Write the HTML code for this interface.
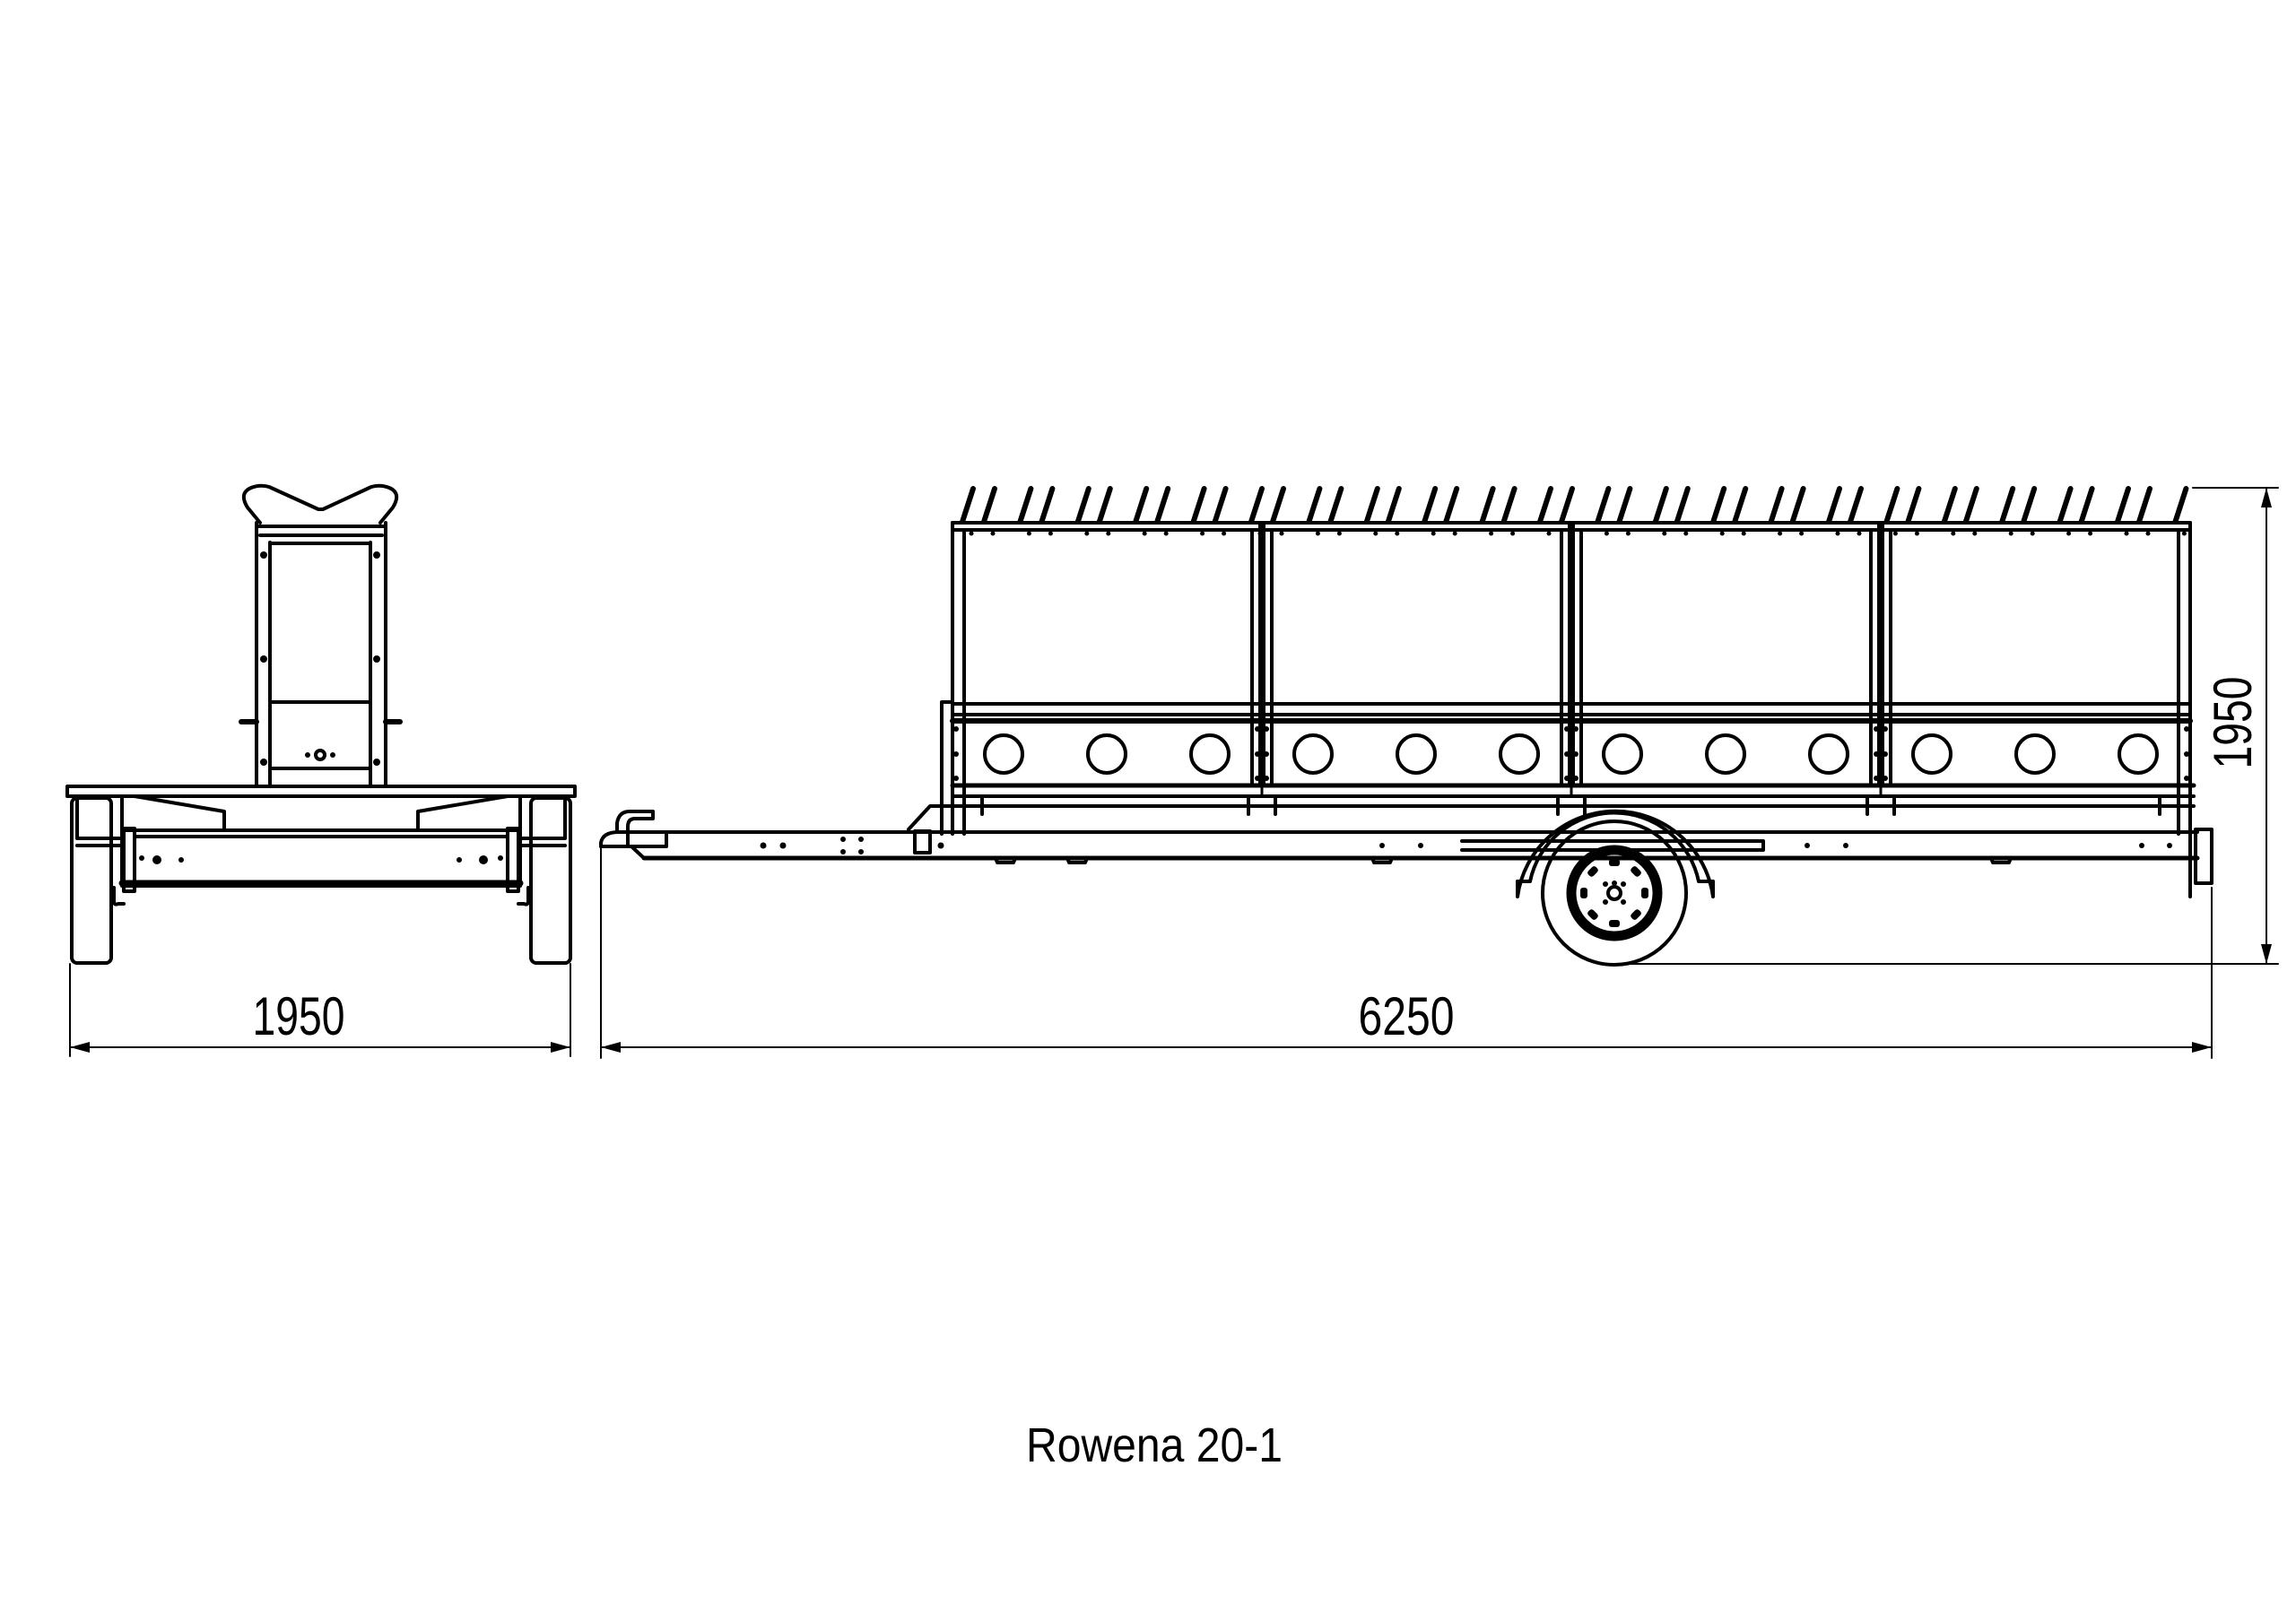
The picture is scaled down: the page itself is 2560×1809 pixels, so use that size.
<!DOCTYPE html>
<html><head><meta charset="utf-8">
<style>
html,body{margin:0;padding:0;background:#fff;}
svg{display:block;}
text{font-family:"Liberation Sans",Arial,sans-serif;fill:#000;}
</style></head>
<body>
<svg id="s" width="2560" height="1809" viewBox="0 0 2560 1809" xmlns="http://www.w3.org/2000/svg">
<rect width="2560" height="1809" fill="#fff"/>
<g fill="none" stroke="#000" stroke-width="4" stroke-linejoin="round" stroke-linecap="round">
<!-- ===== FRONT VIEW ===== -->
<path d="M290,583 L276,566 Q266,550 280,544 Q290,540 300,543 L355,568 L360,568 L414,543 Q424,540 434,544 Q448,550 438,566 L424,583"/>
<line x1="286" y1="583" x2="286" y2="877"/>
<line x1="430" y1="583" x2="430" y2="877"/>
<line x1="301" y1="605" x2="301" y2="877"/>
<line x1="413" y1="605" x2="413" y2="877"/>
<line x1="286" y1="587" x2="430" y2="587"/>
<line x1="290" y1="597" x2="426" y2="597"/>
<line x1="301" y1="606" x2="413" y2="606"/>
<line x1="301" y1="783" x2="413" y2="783"/>
<line x1="301" y1="857" x2="413" y2="857"/>
<line x1="269" y1="805" x2="286" y2="805" stroke-width="6"/>
<line x1="430" y1="805" x2="446" y2="805" stroke-width="6"/>
<circle cx="357" cy="842" r="5"/>
<rect x="75" y="877" width="566" height="11"/>
<!-- wheels -->
<rect x="80" y="890" width="44" height="184" rx="6"/>
<rect x="592" y="890" width="44" height="184" rx="6"/>
<path d="M86,890 L86,935 L136,935 M136,890 L136,926 M86,943 L136,943"/>
<path d="M630,890 L630,935 L580,935 M580,890 L580,926 M630,943 L580,943"/>
<path d="M150,888 L250,905 L250,926"/>
<path d="M566,888 L466,905 L466,926"/>
<rect x="136" y="926" width="444" height="62"/>
<line x1="150" y1="933" x2="566" y2="933"/>
<line x1="136" y1="985" x2="580" y2="985" stroke-width="7"/>
<rect x="138" y="924" width="12" height="70"/>
<rect x="566" y="924" width="12" height="70"/>
<path d="M127,990 L127,1005 Q127,1010 132,1008 L138,1008 M589,990 L589,1005 Q589,1010 584,1008 L578,1008"/>
<line x1="78" y1="1075" x2="78" y2="1178" stroke-width="2"/>
<line x1="636" y1="1075" x2="636" y2="1178" stroke-width="2"/>
<line x1="78" y1="1168" x2="636" y2="1168" stroke-width="2"/>
<!-- ===== SIDE VIEW ===== -->
<rect x="1062" y="583" width="1380" height="8"/>
<line x1="1062" y1="583" x2="1062" y2="930"/>
<line x1="1075" y1="591" x2="1075" y2="930"/>
<line x1="2442" y1="583" x2="2442" y2="1000"/>
<line x1="2429" y1="591" x2="2429" y2="930"/>
<line x1="1062" y1="785" x2="2442" y2="785"/>
<line x1="1062" y1="797" x2="2442" y2="797"/>
<line x1="1062" y1="804" x2="2442" y2="804" stroke-width="6"/>
<line x1="1062" y1="876" x2="2446" y2="876" stroke-width="5"/>
<line x1="1062" y1="888" x2="2446" y2="888"/>
<path d="M1050,930 L1050,783 L1062,783"/>
<path d="M1013,925 L1037,899 L2446,899"/>
<line x1="1013" y1="928" x2="2450" y2="928"/>
<line x1="718" y1="957" x2="2450" y2="957" stroke-width="5"/>
<path d="M670,944 L670,940 Q672,928 690,928 L1013,928"/>
<path d="M704,944 L718,957"/>
<path d="M670,944 L743,944 L743,928"/>
<path d="M688,928 L688,918 Q690,905 702,905 L728,905 L728,913 L708,913 Q700,913 700,922 L700,944"/>
<rect x="1020" y="927" width="17" height="24"/>
<path d="M1110,957 L1112,962 L1130,962 L1132,957"/>
<path d="M1190,957 L1192,962 L1210,962 L1212,957"/>
<path d="M1530,957 L1532,962 L1550,962 L1552,957"/>
<path d="M2220,957 L2222,962 L2240,962 L2242,957"/>
<rect x="2448" y="925" width="18" height="60"/>
<path d="M1630,938 L1966,938 L1966,948 L1630,948"/>
<path d="M1692,983 L1692,1000 A110,110 0 0 1 1910,1000 L1910,983" />
<path d="M1692,983 L1706,983 A96,96 0 0 1 1894,983 L1910,983" />
<circle cx="1800" cy="996" r="80"/>
<circle cx="1800" cy="996" r="48" stroke-width="11"/>
<circle cx="1800" cy="996" r="7"/>
<line x1="2466" y1="990" x2="2466" y2="1180" stroke-width="2"/>
<line x1="670" y1="944" x2="670" y2="1180" stroke-width="2"/>
<line x1="670" y1="1168" x2="2466" y2="1168" stroke-width="2"/>
<line x1="1805" y1="1075" x2="2540" y2="1075" stroke-width="2"/>
<line x1="2445" y1="544" x2="2540" y2="544" stroke-width="2"/>
<line x1="2527" y1="544" x2="2527" y2="1075" stroke-width="2"/>
<g id="gen"></g>
</g>
<g fill="#000" stroke="none">
<polygon points="78,1168 100,1162 100,1174"/>
<polygon points="636,1168 614,1162 614,1174"/>
<polygon points="670,1168 692,1162 692,1174"/>
<polygon points="2466,1168 2444,1162 2444,1174"/>
<polygon points="2527,544 2521,566 2533,566"/>
<polygon points="2527,1075 2521,1053 2533,1053"/>
<circle cx="294" cy="619" r="4"/><circle cx="420" cy="619" r="4"/>
<circle cx="294" cy="735" r="4"/><circle cx="420" cy="735" r="4"/>
<circle cx="294" cy="850" r="4"/><circle cx="420" cy="850" r="4"/>
<circle cx="343" cy="842" r="3"/><circle cx="371" cy="842" r="3"/>
<circle cx="175" cy="959" r="5"/><circle cx="202" cy="959" r="3"/><circle cx="158" cy="957" r="3"/>
<circle cx="539" cy="959" r="5"/><circle cx="512" cy="959" r="3"/><circle cx="558" cy="957" r="3"/>
<circle cx="851" cy="943" r="3.5"/><circle cx="873" cy="943" r="3.5"/>
<circle cx="940" cy="936" r="3"/><circle cx="960" cy="936" r="3"/>
<circle cx="940" cy="950" r="3"/><circle cx="960" cy="950" r="3"/>
<circle cx="1049" cy="943" r="3.5"/>
<circle cx="1541" cy="943" r="3"/><circle cx="1584" cy="943" r="3"/>
<circle cx="2015" cy="943" r="3"/><circle cx="2058" cy="943" r="3"/>
<circle cx="2388" cy="943" r="3"/><circle cx="2419" cy="943" r="3"/>
<circle cx="1800" cy="985" r="3"/><circle cx="1790" cy="1006" r="3"/><circle cx="1810" cy="1006" r="3"/>
<circle cx="1790" cy="986" r="3"/><circle cx="1810" cy="986" r="3"/>
</g>
<text x="333" y="1154" font-size="60" text-anchor="middle" textLength="103" lengthAdjust="spacingAndGlyphs">1950</text>
<text x="1568" y="1154" font-size="60" text-anchor="middle" textLength="107" lengthAdjust="spacingAndGlyphs">6250</text>
<text x="0" y="0" font-size="60" text-anchor="middle" textLength="103" lengthAdjust="spacingAndGlyphs" transform="translate(2510,806) rotate(-90)">1950</text>
<text x="1287" y="1630" font-size="54" text-anchor="middle" textLength="286" lengthAdjust="spacingAndGlyphs">Rowena 20-1</text>
</svg>
<script>
(function(){
var g=document.getElementById('gen'),h='';
for(var k=0;k<22;k++){var b=1085+k*64.4;[b,b+24].forEach(function(x){if(x<=2446){
h+='<line x1="'+x+'" y1="545" x2="'+(x-12)+'" y2="582" stroke-width="6"/>';
h+='<circle cx="'+(x-2)+'" cy="595" r="2.5" fill="#000" stroke="none"/>';}});}
[1407,1752,2097].forEach(function(p){
h+='<line x1="'+(p-11)+'" y1="591" x2="'+(p-11)+'" y2="876"/>';
h+='<line x1="'+(p-2)+'" y1="583" x2="'+(p-2)+'" y2="876"/>';
h+='<line x1="'+(p+2)+'" y1="583" x2="'+(p+2)+'" y2="876"/>';
h+='<line x1="'+(p+11)+'" y1="591" x2="'+(p+11)+'" y2="876"/>';
h+='<line x1="'+p+'" y1="804" x2="'+p+'" y2="888" stroke-width="3"/>';
[813,841,868].forEach(function(y){h+='<circle cx="'+(p-5)+'" cy="'+y+'" r="3" fill="#000" stroke="none"/><circle cx="'+(p+5)+'" cy="'+y+'" r="3" fill="#000" stroke="none"/>';});
h+='<line x1="'+(p-15)+'" y1="888" x2="'+(p-15)+'" y2="908"/><line x1="'+(p+15)+'" y1="888" x2="'+(p+15)+'" y2="908"/>';
});
[1066,2438].forEach(function(p){[813,841,868].forEach(function(y){h+='<circle cx="'+p+'" cy="'+y+'" r="3" fill="#000" stroke="none"/>';});});
h+='<line x1="1062" y1="888" x2="1062" y2="908"/><line x1="1095" y1="888" x2="1095" y2="908"/><line x1="2408" y1="888" x2="2408" y2="908"/>';
[1062,1407,1752,2097].forEach(function(s){[57,172,287].forEach(function(o){h+='<circle cx="'+(s+o)+'" cy="841" r="21"/>';});});
for(var i=0;i<8;i++){var a=i*Math.PI/4,x=1800+34*Math.cos(a),y=996+34*Math.sin(a);
h+='<rect x="'+(x-4)+'" y="'+(y-6)+'" width="8" height="12" rx="3" fill="#000" stroke="none" transform="rotate('+(i*45)+' '+x+' '+y+')"/>';}
g.innerHTML=h;
})();
</script>
</body></html>
